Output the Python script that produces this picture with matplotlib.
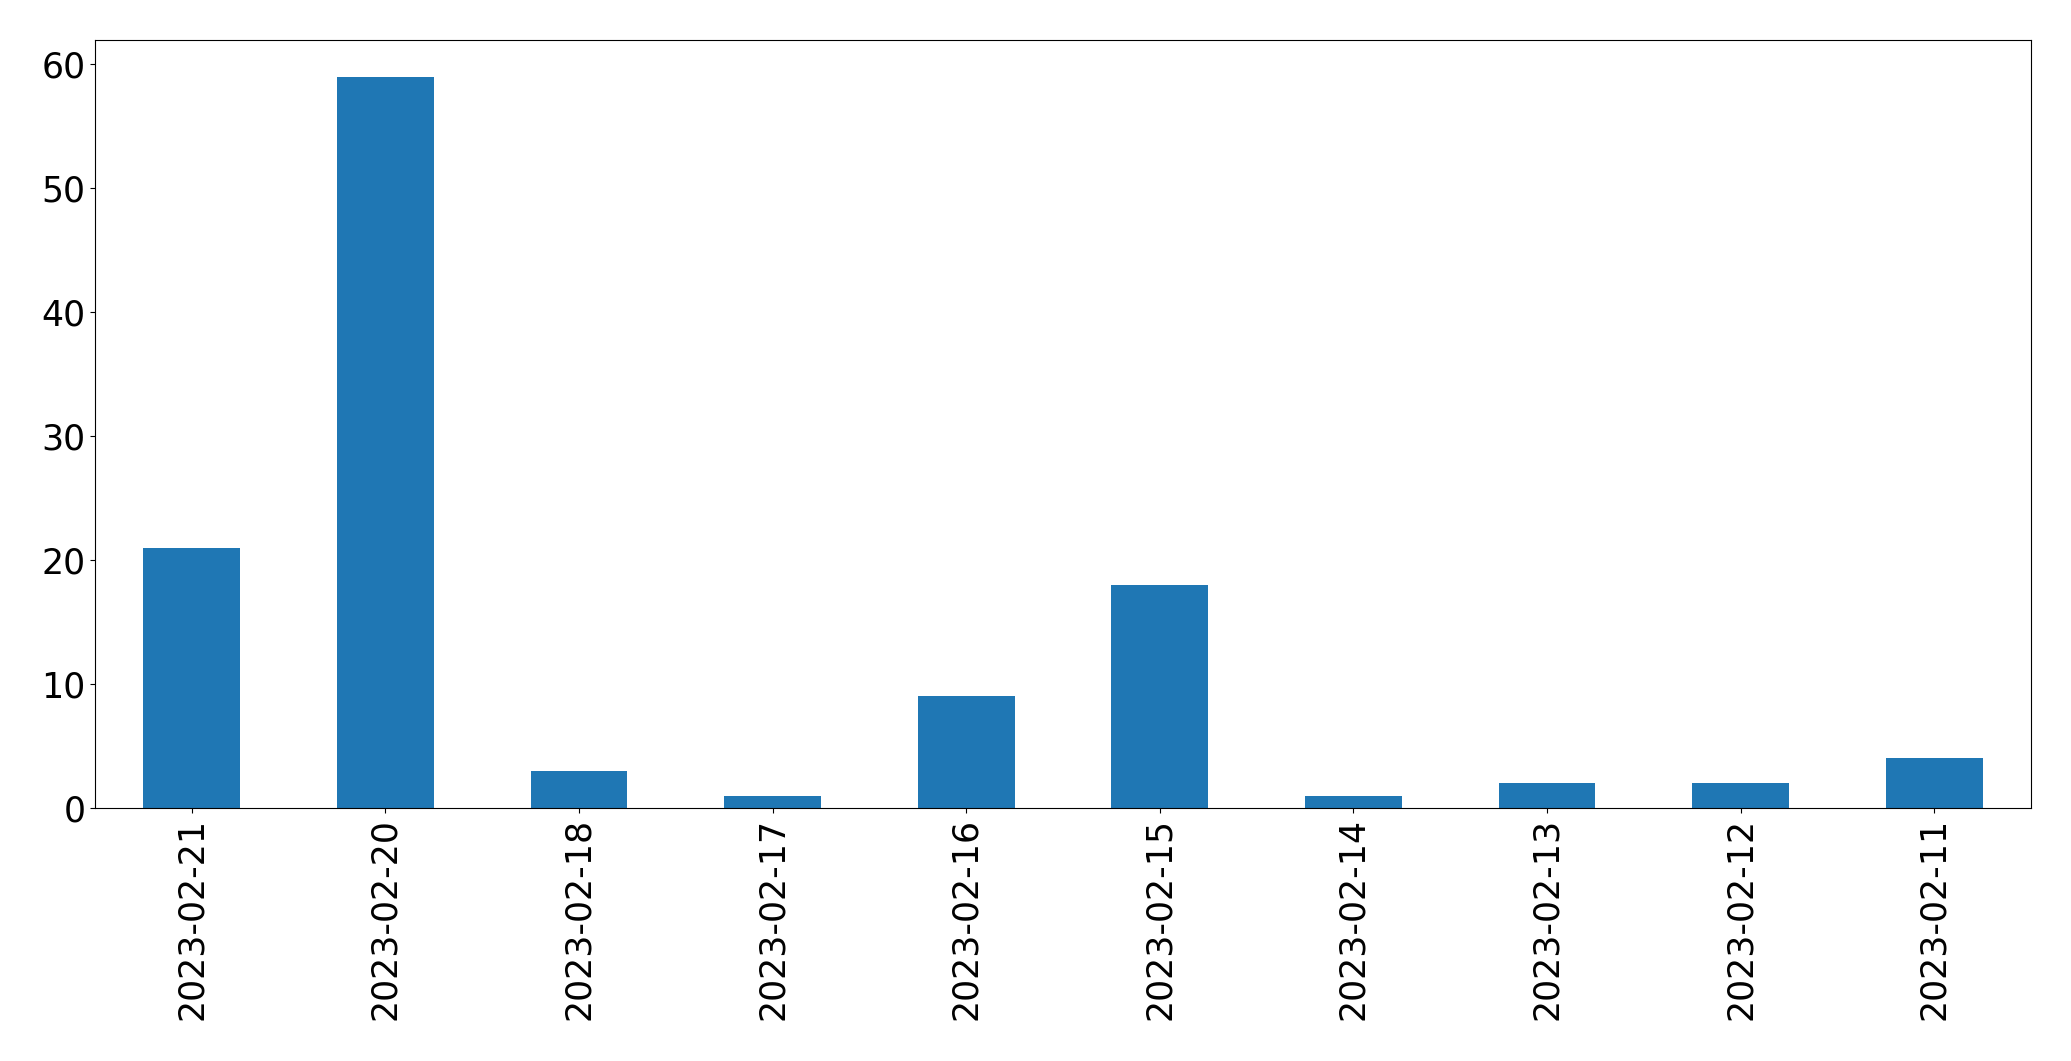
import matplotlib
matplotlib.use("Agg")
import matplotlib.pyplot as plt

dates = ["2023-02-21", "2023-02-20", "2023-02-18", "2023-02-17", "2023-02-16",
         "2023-02-15", "2023-02-14", "2023-02-13", "2023-02-12", "2023-02-11"]
counts = [21, 59, 3, 1, 9, 18, 1, 2, 2, 4]

fig = plt.figure(figsize=(20.71, 10.61), dpi=100)
ax = fig.add_axes([95/2071, 1 - 808/1061, (2031-95)/2071, (808-40)/1061])
x = list(range(len(dates)))
ax.bar(x, counts, width=0.5, color="#1f77b4")
ax.set_xlim(-0.5, len(dates) - 0.5)
ax.set_xticks(x)
ax.set_xticklabels(dates, rotation=90)
ax.tick_params(labelsize=25)
fig.savefig("out.png", dpi=100)
